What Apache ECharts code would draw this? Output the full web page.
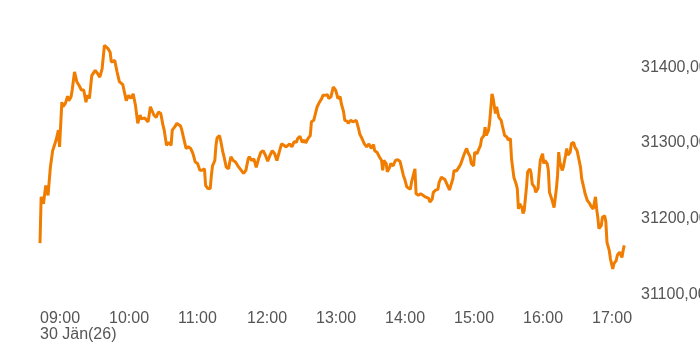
<!DOCTYPE html>
<html>
<head>
<meta charset="utf-8">
<script src="https://cdn.jsdelivr.net/npm/echarts@6/dist/echarts.min.js"></script>
<style>html,body{margin:0;padding:0;background:#fff}#c{width:700px;height:350px}</style>
</head>
<body>
<div id="c"></div>
<script>
// minutes after 09:00
const minutes = [0,1,3,5,7,9,11,12,14,16,17,19,20,22,24,25,27,28,30,32,34,36,38,40,41,43,45,48,50,52,54,56,59,61,62,65,67,69,70,72,73,75,77,79,81,82,83,85,87,88,91,94,96,97,99,101,103,105,107,108,110,112,114,115,117,119,122,123,125,127,129,131,133,135,137,139,141,143,144,146,148,149,150,152,153,154,156,157,159,160,162,164,165,166,168,170,172,174,177,179,181,182,184,186,188,190,192,194,196,198,200,202,204,206,208,210,212,214,215,217,219,221,223,224,226,228,230,231,233,235,236,238,239,241,243,245,246,248,250,251,253,255,257,258,259,261,262,264,265,267,268,270,272,273,275,277,278,280,282,284,286,287,288,290,291,293,295,297,298,299,301,302,304,305,307,309,311,313,314,316,317,319,320,322,323,325,326,327,329,331,333,335,338,339,341,342,344,346,347,349,350,352,353,355,356,357,359,360,362,363,365,366,368,370,371,372,374,375,377,378,380,381,383,384,386,387,388,390,391,393,394,396,397,399,401,402,404,406,407,409,410,412,414,415,416,417,419,420,421,423,424,426,427,428,430,431,433,434,435,436,437,438,439,441,442,443,444,445,447,448,449,450,451,452,454,455,456,457,458,459,461,462,464,465,467,468,470,471,473,474,475,476,477,478,479,481,482,483,484,485,486,488,489,491,492,493,495,496,498,499,501,502,504,505,506,507,508];
const prices = [31168,31229,31220,31244,31231,31268,31290,31288,31304,31317,31295,31354,31348,31352,31362,31356,31361,31370,31394,31381,31376,31370,31370,31354,31363,31359,31389,31396,31392,31387,31398,31429,31425,31420,31407,31409,31394,31381,31381,31377,31376,31356,31363,31359,31365,31363,31350,31326,31337,31332,31333,31328,31348,31350,31337,31334,31341,31339,31323,31317,31297,31301,31297,31317,31321,31326,31323,31319,31306,31293,31295,31293,31286,31275,31273,31264,31264,31266,31244,31240,31240,31257,31270,31277,31297,31307,31310,31304,31288,31282,31268,31266,31275,31282,31277,31275,31270,31266,31260,31264,31279,31282,31277,31279,31268,31279,31288,31290,31284,31276,31284,31290,31286,31277,31288,31299,31297,31295,31297,31299,31295,31302,31301,31306,31309,31301,31304,31300,31306,31310,31328,31330,31331,31348,31354,31359,31363,31363,31364,31359,31361,31374,31370,31365,31359,31361,31352,31341,31330,31329,31326,31330,31328,31327,31330,31319,31312,31306,31299,31295,31299,31297,31293,31298,31290,31288,31282,31277,31264,31277,31273,31262,31268,31273,31270,31277,31278,31276,31270,31257,31253,31242,31240,31239,31248,31260,31266,31233,31231,31233,31231,31229,31227,31222,31226,31235,31238,31239,31248,31255,31253,31252,31253,31242,31238,31238,31253,31264,31263,31264,31270,31273,31282,31290,31293,31288,31282,31273,31270,31288,31286,31290,31297,31306,31310,31321,31310,31317,31328,31365,31359,31339,31348,31334,31330,31323,31310,31308,31304,31306,31279,31255,31246,31240,31213,31220,31215,31207,31211,31242,31262,31266,31260,31246,31242,31235,31240,31260,31277,31282,31286,31273,31277,31273,31264,31235,31235,31226,31215,31217,31240,31257,31288,31275,31264,31268,31266,31284,31293,31284,31288,31299,31301,31295,31290,31288,31268,31253,31240,31233,31235,31224,31222,31220,31217,31213,31215,31229,31213,31202,31187,31191,31202,31204,31196,31169,31158,31147,31134,31141,31145,31152,31156,31155,31149,31158,31165];
const xTicks = [0,60,120,180,240,300,360,420,480];
const xTickLabels = ['09:00','10:00','11:00','12:00','13:00','14:00','15:00','16:00','17:00'];
const dateLabel = '30 Jän(26)';
const yTicks = [31100,31200,31300,31400];

const chart = echarts.init(document.getElementById('c'), null, {renderer:'canvas'});
const seriesData = minutes.map((m,i)=>[m, prices[i]]);
const labelFont = {color:'#555', fontFamily:'Liberation Sans, Arial, sans-serif', fontSize:16, lineHeight:16};
chart.setOption({
  animation:false,
  backgroundColor:'#fff',
  grid:{left:40, right:70, top:37, bottom:44, containLabel:false, outerBoundsMode:'none'},
  xAxis:[{
    type:'value', min:0, max:513,
    axisLine:{show:false}, axisTick:{show:false}, splitLine:{show:false},
    axisLabel:Object.assign({
      customValues:xTicks, showMinLabel:true, showMaxLabel:true, hideOverlap:false,
      align:'left', margin:5,
      formatter:function(v){
        const i = xTicks.indexOf(v);
        return i<0 ? '' : xTickLabels[i];
      }
    }, labelFont)
  },{
    type:'value', min:0, max:513, position:'bottom',
    axisLine:{show:false}, axisTick:{show:false}, splitLine:{show:false},
    axisLabel:Object.assign({
      customValues:[0], showMinLabel:true, showMaxLabel:false,
      align:'left', margin:21,
      formatter:function(v){ return v===0 ? dateLabel : ''; }
    }, labelFont)
  }],
  yAxis:{
    type:'value', position:'right', min:31085, max:31440, scale:true,
    axisLine:{show:false}, axisTick:{show:false}, splitLine:{show:false},
    axisLabel:Object.assign({
      customValues:yTicks, showMinLabel:true, showMaxLabel:true,
      margin:11,
      formatter:function(v){ return v + ',00'; }
    }, labelFont)
  },
  series:[{
    type:'line', data:seriesData, showSymbol:false, symbol:'none', xAxisIndex:0,
    lineStyle:{color:'#f07d00', width:3}, itemStyle:{color:'#f07d00'}
  }]
});
</script>
</body>
</html>
